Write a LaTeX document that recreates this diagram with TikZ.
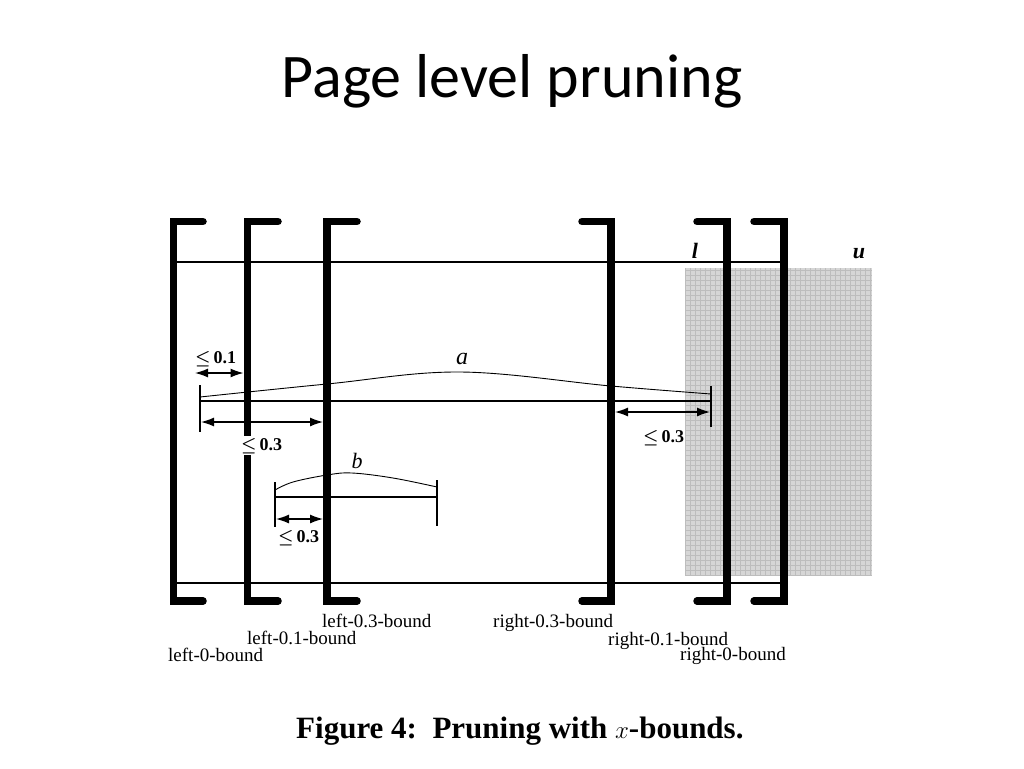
\documentclass[tikz,border=0pt]{standalone}
\usepackage{fontspec}
\setmainfont{Liberation Serif}
\newfontfamily\titlefont{Carlito}
\usetikzlibrary{arrows.meta}
\begin{document}
\begin{tikzpicture}[x=1pt,y=-1pt,
  bar/.style={line width=7.5pt, line cap=round, line join=miter},
  thinline/.style={line width=1.1pt},
  tickline/.style={line width=1.1pt},
  curveline/.style={line width=0.9pt},
  dim/.style={line width=1.3pt, {Latex[length=13pt,width=9pt]}-{Latex[length=13pt,width=9pt]}},
  bound/.style={font=\fontsize{19}{21}\selectfont, anchor=base west, inner sep=0pt},
  lim/.style={font=\fontsize{18}{20}\selectfont\boldmath, anchor=base west, inner sep=1pt},
  ]
\useasboundingbox (0,0) rectangle (1024,768);
% title
\node[font=\titlefont\fontsize{62}{70}\selectfont, anchor=base] (title) at (512,97) {Page level pruning};
% shaded region
\fill[black!16] (685,268) rectangle (872,575);
\draw[black!26, line width=0.35pt, step=5pt] (685,268) grid (872,575);
% page lines
\coordinate (tl) at (173.5,262);
\coordinate (tr) at (784,262);
\coordinate (bl) at (173.5,583);
\coordinate (br) at (784,583);
\draw[thinline] (tl) -- (tr);
\draw[thinline] (bl) -- (br);
% left brackets
\draw[bar] (203,221.5) -- (173.5,221.5) -- (173.5,601) -- (203,601);
\draw[bar] (278,221.5) -- (247.5,221.5) -- (247.5,601) -- (278,601);
\draw[bar] (357,221.5) -- (327,221.5) -- (327,601) -- (357,601);
% right brackets
\draw[bar] (582,221.5) -- (611,221.5) -- (611,601) -- (582,601);
\draw[bar] (697,221.5) -- (727,221.5) -- (727,601) -- (697,601);
\draw[bar] (754,221.5) -- (784,221.5) -- (784,601) -- (754,601);
% labels l, u
\node[font=\fontsize{22}{24}\selectfont\bfseries\itshape, anchor=base] (lab-l) at (695,258) {l};
\node[font=\fontsize{22}{24}\selectfont\bfseries\itshape, anchor=base] (lab-u) at (859,258) {u};
% interval a
\coordinate (aL) at (200,401);
\coordinate (aR) at (711,401);
\draw[tickline] (200,385) -- (200,432);
\draw[tickline] (711,386) -- (711,427);
\draw[thinline] (aL) -- (aR);
\draw[curveline] plot[smooth, tension=0.6] coordinates {(200,397) (327,384) (460,372) (611,386) (711,394)};
\node[font=\fontsize{24}{26}\selectfont\itshape, anchor=base] (lab-a) at (462,364) {a};
% interval b
\coordinate (bL) at (275,497);
\coordinate (bR) at (437,497);
\draw[tickline] (275,482) -- (275,527);
\draw[tickline] (437,480) -- (437,526);
\draw[thinline] (bL) -- (bR);
\draw[curveline] plot[smooth, tension=0.6] coordinates {(275,490) (293,482) (327,475) (352,473) (393,478) (437,487)};
\node[font=\fontsize{22}{24}\selectfont\itshape, anchor=base] (lab-b) at (357,468) {b};
% dimension arrows
\coordinate (d1a) at (195,373);
\coordinate (d1b) at (243.5,373);
\coordinate (d2a) at (201,422);
\coordinate (d2b) at (323,422);
\coordinate (d3a) at (615,412);
\coordinate (d3b) at (710,412);
\coordinate (d4a) at (276,519);
\coordinate (d4b) at (323,519);
\draw[dim] (d1a) -- (d1b);
\draw[dim] (d2a) -- (d2b);
\draw[dim] (d3a) -- (d3b);
\draw[dim] (d4a) -- (d4b);
\node[lim] (lim1) at (194,363) {$\leq$\,\textbf{0.1}};
\node[lim, fill=white, inner sep=2pt] (lim2) at (239,450) {$\leq$\,\textbf{0.3}};
\node[lim] (lim3) at (642,442) {$\leq$\,\textbf{0.3}};
\node[lim] (lim4) at (277,542) {$\leq$\,\textbf{0.3}};
% bound labels
\node[bound] (l0) at (168,661) {left-0-bound};
\node[bound] (l1) at (247,644) {left-0.1-bound};
\node[bound] (l3) at (322,627) {left-0.3-bound};
\node[bound] (r3) at (493,627) {right-0.3-bound};
\node[bound] (r1) at (608,645) {right-0.1-bound};
\node[bound] (r0) at (680,660) {right-0-bound};
% caption
\node[font=\fontsize{31}{35}\selectfont\bfseries, anchor=base west, inner sep=0pt] (cap) at (296,738) {Figure 4:\ \ Pruning with $x$-bounds.};
\end{tikzpicture}
\end{document}
